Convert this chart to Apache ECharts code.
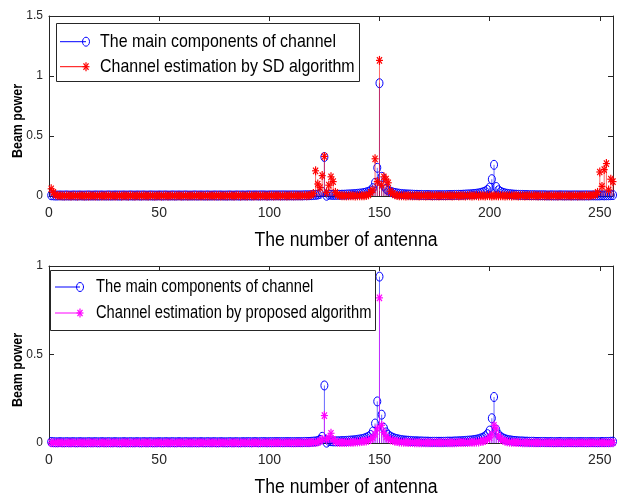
<!DOCTYPE html>
<html>
<head>
<meta charset="utf-8">
<title>Beam power</title>
<script src="https://cdn.jsdelivr.net/npm/echarts@6/dist/echarts.min.js"></script>
<style>
  html, body { margin: 0; padding: 0; background: #fff; }
  #main { width: 619px; height: 495px; }
</style>
</head>
<body>
<div id="main"></div>
<script>
// beam power per antenna index 1..256
var mainPower = [
  0.006,0.005,0.004,0.004,0.005,0.004,0.004,0.005,0.004,0.004,0.005,0.004,0.004,0.005,0.004,0.004,
  0.004,0.005,0.004,0.004,0.005,0.004,0.004,0.005,0.004,0.004,0.005,0.004,0.004,0.005,0.004,0.004,
  0.004,0.005,0.004,0.004,0.005,0.004,0.004,0.005,0.004,0.004,0.005,0.004,0.004,0.005,0.004,0.004,
  0.004,0.005,0.004,0.004,0.005,0.004,0.004,0.005,0.004,0.004,0.005,0.004,0.004,0.005,0.004,0.004,
  0.004,0.005,0.004,0.004,0.005,0.004,0.004,0.005,0.004,0.004,0.005,0.004,0.004,0.005,0.004,0.004,
  0.004,0.005,0.004,0.004,0.005,0.004,0.004,0.005,0.004,0.005,0.005,0.004,0.005,0.005,0.004,0.005,
  0.005,0.005,0.004,0.005,0.005,0.005,0.005,0.005,0.005,0.005,0.005,0.005,0.005,0.005,0.005,0.005,
  0.005,0.005,0.005,0.006,0.006,0.006,0.007,0.008,0.009,0.012,0.018,0.035,0.325,0.002,0.012,0.010,
  0.009,0.009,0.010,0.010,0.011,0.011,0.012,0.013,0.014,0.015,0.016,0.018,0.020,0.022,0.025,0.030,
  0.035,0.045,0.065,0.110,0.235,0.940,0.160,0.085,0.060,0.045,0.036,0.030,0.025,0.022,0.019,0.017,
  0.015,0.014,0.013,0.012,0.011,0.010,0.010,0.009,0.009,0.008,0.008,0.008,0.007,0.007,0.007,0.007,
  0.007,0.007,0.007,0.007,0.008,0.008,0.008,0.009,0.009,0.010,0.010,0.011,0.012,0.013,0.014,0.015,
  0.017,0.019,0.022,0.026,0.031,0.038,0.050,0.070,0.140,0.260,0.075,0.048,0.035,0.027,0.022,0.018,
  0.016,0.014,0.012,0.011,0.010,0.009,0.009,0.008,0.008,0.007,0.007,0.007,0.006,0.006,0.006,0.006,
  0.006,0.005,0.005,0.006,0.005,0.005,0.005,0.006,0.005,0.005,0.005,0.005,0.005,0.005,0.005,0.005,
  0.005,0.005,0.005,0.005,0.005,0.005,0.005,0.005,0.005,0.005,0.006,0.005,0.006,0.006,0.007,0.008
];
var sdPower = [
  0.060,0.030,0.010,0.004,0.002,0.003,0.001,0.002,0.003,0.001,0.002,0.002,0.001,0.003,0.002,0.001,
  0.002,0.001,0.003,0.002,0.001,0.002,0.003,0.001,0.002,0.002,0.001,0.003,0.002,0.001,0.002,0.003,
  0.001,0.002,0.002,0.001,0.003,0.002,0.001,0.002,0.003,0.001,0.002,0.002,0.001,0.003,0.002,0.001,
  0.002,0.003,0.001,0.002,0.002,0.001,0.003,0.002,0.001,0.002,0.003,0.001,0.002,0.002,0.001,0.003,
  0.002,0.001,0.002,0.003,0.001,0.002,0.002,0.001,0.003,0.002,0.001,0.002,0.003,0.001,0.002,0.002,
  0.001,0.003,0.002,0.001,0.002,0.003,0.001,0.002,0.002,0.001,0.003,0.002,0.001,0.002,0.003,0.001,
  0.002,0.002,0.001,0.003,0.002,0.001,0.002,0.003,0.001,0.002,0.002,0.001,0.003,0.002,0.001,0.002,
  0.002,0.003,0.002,0.004,0.003,0.005,0.010,0.020,0.210,0.100,0.070,0.170,0.330,0.030,0.090,0.160,
  0.120,0.030,0.010,0.004,0.002,0.003,0.001,0.002,0.003,0.002,0.001,0.002,0.003,0.002,0.003,0.005,
  0.010,0.030,0.050,0.310,0.120,1.130,0.090,0.160,0.140,0.110,0.040,0.020,0.010,0.004,0.003,0.002,
  0.002,0.001,0.003,0.002,0.001,0.002,0.003,0.001,0.002,0.002,0.001,0.003,0.002,0.001,0.002,0.003,
  0.001,0.002,0.002,0.001,0.003,0.002,0.001,0.002,0.003,0.001,0.002,0.002,0.001,0.003,0.002,0.001,
  0.002,0.003,0.001,0.002,0.002,0.001,0.003,0.002,0.001,0.002,0.003,0.001,0.002,0.002,0.001,0.003,
  0.002,0.001,0.002,0.003,0.001,0.002,0.002,0.001,0.003,0.002,0.001,0.002,0.003,0.001,0.002,0.002,
  0.001,0.003,0.002,0.001,0.002,0.003,0.001,0.002,0.002,0.001,0.003,0.002,0.001,0.002,0.003,0.001,
  0.002,0.003,0.002,0.004,0.003,0.005,0.008,0.010,0.030,0.200,0.080,0.220,0.270,0.050,0.140,0.120
];
var proposedPower = [
  0.002,0.001,0.002,0.001,0.002,0.001,0.001,0.002,0.001,0.002,0.001,0.001,0.002,0.001,0.002,0.001,
  0.001,0.002,0.001,0.002,0.001,0.001,0.002,0.001,0.002,0.001,0.001,0.002,0.001,0.002,0.001,0.001,
  0.002,0.001,0.002,0.001,0.001,0.002,0.001,0.002,0.001,0.001,0.002,0.001,0.002,0.001,0.001,0.002,
  0.001,0.002,0.001,0.001,0.002,0.001,0.002,0.001,0.001,0.002,0.001,0.002,0.001,0.001,0.002,0.001,
  0.002,0.001,0.001,0.002,0.001,0.002,0.001,0.001,0.002,0.001,0.002,0.001,0.001,0.002,0.001,0.002,
  0.001,0.001,0.002,0.001,0.002,0.001,0.001,0.002,0.001,0.002,0.001,0.001,0.002,0.001,0.002,0.001,
  0.001,0.002,0.001,0.002,0.001,0.001,0.002,0.001,0.002,0.001,0.001,0.002,0.001,0.002,0.001,0.002,
  0.002,0.002,0.002,0.002,0.002,0.002,0.003,0.003,0.003,0.005,0.010,0.020,0.155,0.020,0.030,0.055,
  0.020,0.008,0.004,0.003,0.003,0.003,0.003,0.004,0.004,0.004,0.005,0.006,0.007,0.008,0.010,0.012,
  0.015,0.020,0.030,0.050,0.080,0.820,0.100,0.060,0.035,0.025,0.018,0.014,0.010,0.008,0.006,0.005,
  0.004,0.004,0.003,0.003,0.003,0.002,0.002,0.002,0.002,0.002,0.002,0.002,0.002,0.002,0.002,0.002,
  0.002,0.002,0.002,0.002,0.002,0.002,0.002,0.002,0.002,0.003,0.003,0.003,0.003,0.003,0.004,0.004,
  0.004,0.005,0.006,0.008,0.010,0.014,0.020,0.030,0.050,0.100,0.080,0.040,0.025,0.015,0.010,0.007,
  0.005,0.004,0.004,0.003,0.003,0.003,0.002,0.002,0.002,0.002,0.002,0.002,0.002,0.002,0.001,0.002,
  0.001,0.002,0.001,0.002,0.001,0.001,0.002,0.001,0.002,0.001,0.001,0.002,0.001,0.002,0.001,0.001,
  0.002,0.001,0.002,0.001,0.001,0.002,0.001,0.002,0.001,0.001,0.002,0.001,0.002,0.001,0.002,0.002
];
var xTickStep = 50;
var topYMax = 1.5, bottomYMax = 1;
var legendTop = ['The main components of channel', 'Channel estimation by SD algorithm'];
var legendBottom = ['The main components of channel', 'Channel estimation by proposed algorithm'];
var xTitle = 'The number of antenna';
var yTitle = 'Beam power';

var BLUE = '#0000ff', RED = '#ff0000', MAGENTA = '#ff00ff';
var FONT = '"Liberation Sans", Arial, Helvetica, sans-serif';
var AXIS = '#262626';

var chart = echarts.init(document.getElementById('main'));

function toPairs(arr) {
  var out = [];
  for (var i = 0; i < arr.length; i++) out.push([i + 1, arr[i]]);
  return out;
}

// marker drawn as ellipse (circle) or asterisk lines
function markerShapes(kind, cx, cy, color) {
  var rx = 3.5, ry = 4.5;
  if (kind == 'circle') {
    return [{ type: 'ellipse', shape: { cx: cx, cy: cy, rx: rx, ry: ry },
      style: { fill: 'none', stroke: color, lineWidth: 1 } }];
  }
  var d = 0.72;
  var segs = [[0, -ry, 0, ry], [-rx, 0, rx, 0], [-rx * d, -ry * d, rx * d, ry * d], [-rx * d, ry * d, rx * d, -ry * d]];
  var list = [];
  for (var i = 0; i < segs.length; i++) {
    list.push({ type: 'line', shape: { x1: cx + segs[i][0], y1: cy + segs[i][1], x2: cx + segs[i][2], y2: cy + segs[i][3] },
      style: { stroke: color, lineWidth: 1.2 } });
  }
  return list;
}

function stemSeries(name, arr, kind, color, axisIdx) {
  return {
    name: name,
    type: 'custom',
    xAxisIndex: axisIdx,
    yAxisIndex: axisIdx,
    clip: false,
    silent: true,
    data: toPairs(arr),
    encode: { x: 0, y: 1 },
    renderItem: function (params, api) {
      var x = api.value(0), y = api.value(1);
      var base = api.coord([x, 0]);
      var top = api.coord([x, y]);
      var children = [{ type: 'line', shape: { x1: base[0], y1: base[1], x2: top[0], y2: top[1] },
        style: { stroke: color, lineWidth: 1, opacity: 0.6 } }];
      return { type: 'group', children: children.concat(markerShapes(kind, top[0], top[1], color)) };
    }
  };
}

function xAxisPair(gridIdx) {
  var common = { type: 'value', gridIndex: gridIdx, min: 0, max: 256, interval: xTickStep,
    axisLine: { show: true, onZero: false, lineStyle: { color: AXIS, width: 1 } },
    axisTick: { show: true, inside: true, length: 5, lineStyle: { color: AXIS } },
    splitLine: { show: false } };
  return [
    Object.assign({}, common, { position: 'bottom',
      axisLabel: { show: true, margin: 10, color: AXIS, fontFamily: FONT, fontSize: 14, showMaxLabel: false } }),
    Object.assign({}, common, { position: 'top', axisLabel: { show: false } })
  ];
}

function yAxisPair(gridIdx, ymax) {
  var common = { type: 'value', gridIndex: gridIdx, min: 0, max: ymax, interval: 0.5,
    axisLine: { show: true, onZero: false, lineStyle: { color: AXIS, width: 1 } },
    axisTick: { show: true, inside: true, length: 5, lineStyle: { color: AXIS } },
    splitLine: { show: false } };
  return [
    Object.assign({}, common, { position: 'left',
      axisLabel: { show: true, margin: 6, color: AXIS, fontFamily: FONT, fontSize: 12 } }),
    Object.assign({}, common, { position: 'right', axisLabel: { show: false } })
  ];
}

// narrow-looking text: font squeezed along its reading direction
function label(text, x, y, size, sx, rot, weight, align) {
  return { type: 'text', x: x, y: y, rotation: rot || 0, scaleX: sx, scaleY: 1, z: 101,
    style: { text: text, fill: '#000', fontFamily: FONT, fontSize: size, fontWeight: weight || 'normal',
      align: align || 'left', verticalAlign: 'middle' } };
}

function legendBox(x, y, w, h, rowY, lineX1, lineX2, textX, labels, colors, kinds, fontSize, sx) {
  var els = [{ type: 'rect', shape: { x: x, y: y, width: w, height: h },
    style: { fill: '#fff', stroke: AXIS, lineWidth: 1 }, z: 100 }];
  for (var i = 0; i < labels.length; i++) {
    els.push({ type: 'line', shape: { x1: lineX1, y1: rowY[i], x2: lineX2, y2: rowY[i] },
      style: { stroke: colors[i], lineWidth: 1 }, z: 101 });
    var m = markerShapes(kinds[i], lineX2, rowY[i], colors[i]);
    for (var k = 0; k < m.length; k++) { m[k].z = 101; els.push(m[k]); }
    els.push(label(labels[i], textX, rowY[i], fontSize, sx));
  }
  return els;
}

var option = {
  backgroundColor: '#fff',
  animation: false,
  grid: [
    { left: 49, top: 16, width: 564, height: 180 },
    { left: 49, top: 266, width: 564, height: 177 }
  ],
  xAxis: xAxisPair(0).concat(xAxisPair(1)),
  yAxis: yAxisPair(0, topYMax).concat(yAxisPair(1, bottomYMax)),
  series: [
    stemSeries(legendTop[0], mainPower, 'circle', BLUE, 0),
    stemSeries(legendTop[1], sdPower, 'star', RED, 0),
    stemSeries(legendBottom[0], mainPower, 'circle', BLUE, 2),
    stemSeries(legendBottom[1], proposedPower, 'star', MAGENTA, 2)
  ],
  graphic: legendBox(56.5, 23.5, 303, 58, [41.7, 66.7], 60, 86, 100, legendTop, [BLUE, RED], ['circle', 'star'], 19, 0.84)
    .concat(legendBox(50.5, 270.5, 325, 60, [287, 313], 55, 80, 96, legendBottom, [BLUE, MAGENTA], ['circle', 'star'], 17.5, 0.84))
    .concat([
      label(xTitle, 346, 240, 20, 0.88, 0, 'normal', 'center'),
      label(xTitle, 346, 487, 20, 0.88, 0, 'normal', 'center'),
      label(yTitle, 18, 121, 14, 0.89, Math.PI / 2, 'bold', 'center'),
      label(yTitle, 18, 370, 14, 0.89, Math.PI / 2, 'bold', 'center')
    ])
};

chart.setOption(option);
</script>
</body>
</html>
